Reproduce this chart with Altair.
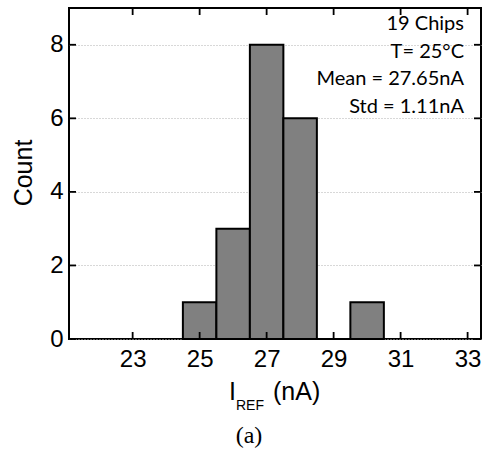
import altair as alt
import pandas as pd

bin_start = [24.5, 25.5, 26.5, 27.5, 28.5, 29.5]
bin_end = [25.5, 26.5, 27.5, 28.5, 29.5, 30.5]
counts = [1, 3, 8, 6, 0, 1]
x_ticks = [23, 25, 27, 29, 31, 33]
y_ticks = [0, 2, 4, 6, 8]
notes = ["19 Chips", "T= 25°C", "Mean = 27.65nA", "Std = 1.11nA"]

W, H = 412, 331
SANS = "Liberation Sans"
xs = alt.Scale(domain=[21.1, 33.4], nice=False, zero=False)
ys = alt.Scale(domain=[0, 9], nice=False)

x_axis = alt.Axis(values=x_ticks, format="d", title=None, ticks=False,
                  domain=False, grid=False, labelFontSize=24, labelFont=SANS,
                  labelColor="black", labelPadding=8)
y_axis = alt.Axis(values=y_ticks, format="d", title=None, ticks=False,
                  domain=False, grid=True, gridDash=[1, 2], gridColor="#b0b0b0",
                  gridWidth=1, labelFontSize=24, labelFont=SANS,
                  labelColor="black", labelPadding=6)

bars_df = pd.DataFrame({"start": bin_start, "end": bin_end, "count": counts})
xt_df = pd.DataFrame({"v": x_ticks})
yt_df = pd.DataFrame({"v": y_ticks})

bars = alt.Chart(bars_df).mark_rect(fill="#808080", stroke="black", strokeWidth=2).encode(
    x=alt.X("start:Q", scale=xs, axis=x_axis),
    x2="end:Q",
    y=alt.Y("count:Q", scale=ys, axis=y_axis),
    y2=alt.datum(0),
)

tick_kw = dict(color="black", strokeWidth=1.8)
bottom_t = alt.Chart(xt_df).mark_rule(**tick_kw).encode(
    x=alt.X("v:Q", scale=xs, axis=x_axis), y=alt.value(H), y2=alt.value(H - 7))
top_t = alt.Chart(xt_df).mark_rule(**tick_kw).encode(
    x=alt.X("v:Q", scale=xs, axis=x_axis), y=alt.value(0), y2=alt.value(7))
left_t = alt.Chart(yt_df).mark_rule(**tick_kw).encode(
    y=alt.Y("v:Q", scale=ys, axis=y_axis), x=alt.value(0), x2=alt.value(7))
right_t = alt.Chart(yt_df).mark_rule(**tick_kw).encode(
    y=alt.Y("v:Q", scale=ys, axis=y_axis), x=alt.value(W), x2=alt.value(W - 7))

layers = [bars, bottom_t, top_t, left_t, right_t]

note_y = [22, 50, 77, 105]
for txt, yy in zip(notes, note_y):
    layers.append(
        alt.Chart(pd.DataFrame({"t": [txt]})).mark_text(
            font="Lato", fontSize=20, align="right", baseline="alphabetic", color="black"
        ).encode(text="t:N", x=alt.value(395), y=alt.value(yy))
    )

label_parts = [("I", 25, "right", 167, 392), ("REF", 14, "left", 167, 402), ("(nA)", 25, "left", 204, 392)]
for txt, fs, al, xx, yy in label_parts:
    layers.append(
        alt.Chart(pd.DataFrame({"t": [txt]})).mark_text(
            font=SANS, fontSize=fs, align=al, baseline="alphabetic", color="black"
        ).encode(text="t:N", x=alt.value(xx), y=alt.value(yy))
    )

layers.append(
    alt.Chart(pd.DataFrame({"t": ["Count"]})).mark_text(
        font=SANS, fontSize=25, align="center", baseline="middle", angle=270, color="black"
    ).encode(text="t:N", x=alt.value(-45), y=alt.value(165))
)
layers.append(
    alt.Chart(pd.DataFrame({"t": ["(a)"]})).mark_text(
        font="Liberation Serif", fontSize=24, align="center", baseline="alphabetic", color="black"
    ).encode(text="t:N", x=alt.value(180), y=alt.value(435))
)

chart = alt.layer(*layers).properties(
    width=W, height=H,
    autosize=alt.AutoSizeParams(type="none"),
    padding={"left": 69, "top": 8, "right": 6, "bottom": 112},
    background="white",
).configure_view(stroke="black", strokeWidth=2)

chart.save("out.html", embed_options={"renderer": "svg", "actions": False})
